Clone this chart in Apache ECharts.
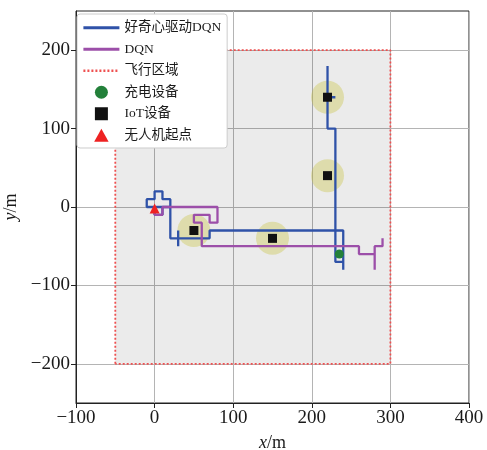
<!DOCTYPE html>
<html><head><meta charset="utf-8">
<script src="https://cdn.jsdelivr.net/npm/echarts@6/dist/echarts.min.js"></script>
<style>html,body{margin:0;padding:0;background:#fff}#c{width:487px;height:450px}</style>
</head><body><div id="c"></div>
<script>
const xTicks = [-100, 0, 100, 200, 300, 400];
const yTicks = [-200, -100, 0, 100, 200];
const regionX = [-50, 300];
const regionY = [-200, 200];
const curiosityPath = [[0,0],[0,-10],[10,-10],[10,0],[20,0],[20,10],[10,10],[10,20],[0,20],[0,10],[-10,10],[-10,0],[0,0],[20,0],[20,-40],[30,-40],[30,-30],[30,-50],[30,-40],[70,-40],[70,-30],[240,-30],[240,-80],[240,-70],[230,-70],[230,100],[220,100],[220,140],[230,140],[220,140],[220,180]];
const dqnPath = [[0,0],[0,-10],[10,-10],[10,0],[80,0],[80,-20],[70,-20],[70,-10],[50,-10],[50,-20],[60,-20],[60,-50],[260,-50],[260,-60],[280,-60],[280,-80],[280,-50],[290,-50],[290,-40]];
const chargers = [[235, -60]];
const iotDevices = [[50, -30], [150, -40], [220, 40], [220, 140]];
const startPoint = [[0, -2]];

const regionPath = [[regionX[0], regionY[0]], [regionX[0], regionY[1]], [regionX[1], regionY[1]], [regionX[1], regionY[0]], [regionX[0], regionY[0]]];
const serif = "'Liberation Serif','DejaVu Serif','Noto Sans CJK SC',serif";
const fmt = v => (v < 0 ? '\u2212' + Math.abs(v) : String(v));

const chart = echarts.init(document.getElementById('c'));
chart.setOption({
  animation: false,
  backgroundColor: '#fff',
  grid: { left: 76, right: 18, top: 11, bottom: 47, show: true, borderColor: '#222', borderWidth: 1, backgroundColor: 'transparent', containLabel: false, outerBoundsMode: 'none' },
  legend: {
    orient: 'vertical', left: 77, top: 14,
    data: [
      { name: '好奇心驱动DQN', itemStyle: { opacity: 0 }, lineStyle: { width: 2.8 } },
      { name: 'DQN', itemStyle: { opacity: 0 }, lineStyle: { width: 2.8 } },
      { name: '飞行区域', itemStyle: { opacity: 0 }, lineStyle: { width: 2.4 } },
      { name: '充电设备', icon: 'circle' },
      { name: 'IoT设备', icon: 'path://M0,0L10,0L10,10L0,10Z' },
      { name: '无人机起点', icon: 'path://M5,0L10,9L0,9Z' }
    ],
    itemGap: 8, itemWidth: 36, itemHeight: 13,
    backgroundColor: '#fff', borderColor: '#cccccc', borderWidth: 1, borderRadius: 3,
    padding: [7, 6, 6, 5],
    textStyle: { fontFamily: serif, fontSize: 13.5, color: '#1a1a1a' }
  },
  xAxis: {
    type: 'value', min: -100, max: 400, interval: 100,
    axisLine: { onZero: false, lineStyle: { color: '#222', width: 1 } },
    axisTick: { show: true, length: 5, lineStyle: { color: '#222' } },
    axisLabel: { fontFamily: serif, fontSize: 19, color: '#1a1a1a', margin: 6, formatter: fmt },
    splitLine: { show: true, lineStyle: { color: '#b4b4b4', width: 1 } },
    name: '{i|x}/m', nameLocation: 'middle', nameGap: 31,
    nameTextStyle: { fontFamily: serif, fontSize: 18, color: '#1a1a1a', rich: { i: { fontFamily: serif, fontStyle: 'italic', fontSize: 18, color: '#1a1a1a' } } }
  },
  yAxis: {
    type: 'value', min: -250, max: 250,
    axisLine: { onZero: false, lineStyle: { color: '#222', width: 1 } },
    axisTick: { show: true, length: 5, lineStyle: { color: '#222' }, customValues: yTicks },
    axisLabel: { fontFamily: serif, fontSize: 19, color: '#1a1a1a', margin: 6, customValues: yTicks, formatter: fmt },
    splitLine: { show: true, lineStyle: { color: '#b4b4b4', width: 1 } },
    name: '{i|y}/m', nameLocation: 'middle', nameGap: 45, nameRotate: 90,
    nameTextStyle: { fontFamily: serif, fontSize: 18, color: '#1a1a1a', rich: { i: { fontFamily: serif, fontStyle: 'italic', fontSize: 18, color: '#1a1a1a' } } }
  },
  series: [
    { name: '飞行区域', type: 'line', data: regionPath, symbol: 'none', z: 1,
      lineStyle: { color: '#ee5050', width: 1.8, type: [2, 2] },
      itemStyle: { color: '#ee5050' },
      markArea: { silent: true, itemStyle: { color: 'rgba(0,0,0,0.08)' },
        data: [[{ coord: [regionX[0], regionY[0]] }, { coord: [regionX[1], regionY[1]] }]] } },
    { name: 'coverage', type: 'scatter', data: iotDevices, symbol: 'circle', symbolSize: 33, z: 2,
      itemStyle: { color: 'rgba(200,195,60,0.45)' }, silent: true },
    { name: '好奇心驱动DQN', type: 'line', data: curiosityPath, symbol: 'none', z: 3,
      lineStyle: { color: '#2f52a8', width: 2.3 }, itemStyle: { color: '#2f52a8' } },
    { name: 'DQN', type: 'line', data: dqnPath, symbol: 'none', z: 4,
      lineStyle: { color: '#9c4fa9', width: 2.3 }, itemStyle: { color: '#9c4fa9' } },
    { name: '充电设备', type: 'scatter', data: chargers, symbol: 'circle', symbolSize: 9, z: 5,
      itemStyle: { color: '#23803a', opacity: 1 } },
    { name: 'IoT设备', type: 'scatter', data: iotDevices, symbol: 'rect', symbolSize: 9, z: 6,
      itemStyle: { color: '#111', opacity: 1 } },
    { name: '无人机起点', type: 'scatter', data: startPoint, symbol: 'triangle', symbolSize: 10, z: 6,
      itemStyle: { color: '#ee2222', opacity: 1 } }
  ]
});
</script></body></html>
